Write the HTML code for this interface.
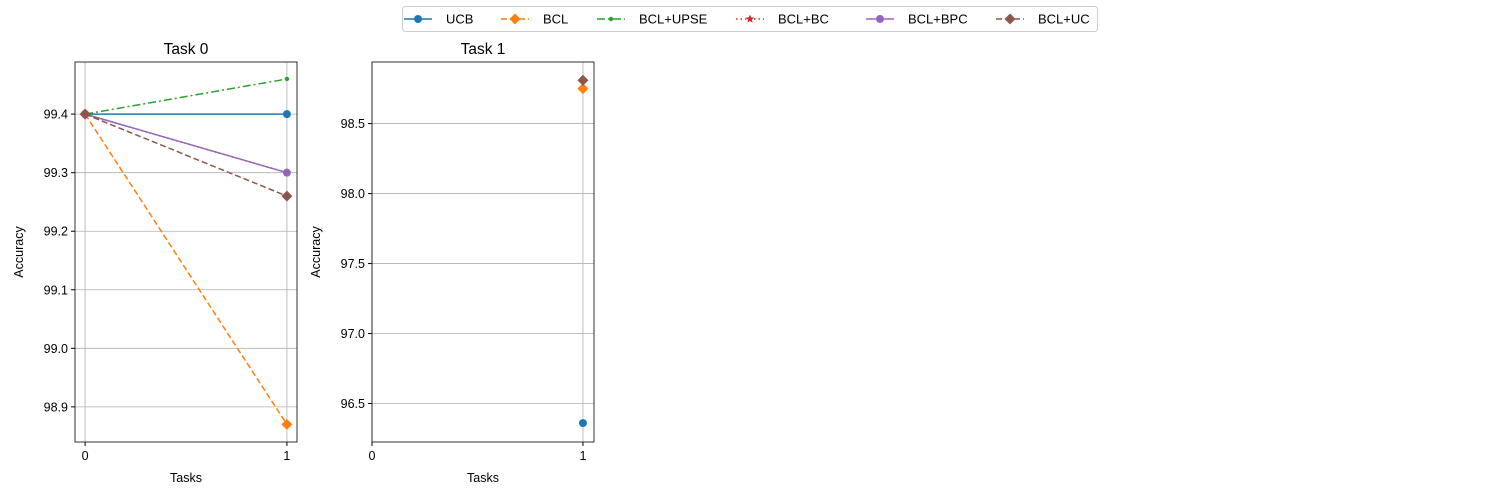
<!DOCTYPE html>
<html><head><meta charset="utf-8"><style>
body{margin:0;background:#fff;}
svg{display:block;font-family:"Liberation Sans","DejaVu Sans",sans-serif;}
</style></head><body>
<svg id="chart" width="1500" height="500"></svg>
<script>
const seriesNames=["UCB","BCL","BCL+UPSE","BCL+BC","BCL+BPC","BCL+UC"];
const task0X=[0,1];
const ucb0=[99.4,99.4];
const bcl0=[99.4,98.87];
const upse0=[99.4,99.46];
const bc0=[99.4,99.3];
const bpc0=[99.4,99.3];
const uc0=[99.4,99.26];
const task1X=[1];
const ucb1=[96.36];
const bcl1=[98.75];
const upse1=[null];
const bc1=[null];
const bpc1=[null];
const uc1=[98.81];
const ticksY0=["99.4","99.3","99.2","99.1","99.0","98.9"];
const ticksY1=["98.5","98.0","97.5","97.0","96.5"];
const ticksX=["0","1"];

const colors=["#1f77b4","#ff7f0e","#2ca02c","#d62728","#9467bd","#8c564b"];
const dashes=["","6,3","8,3,2,3","1.5,3","","6,3"];
const markers=["o","D",".","*","o","D"];
const NS="http://www.w3.org/2000/svg";
const svg=document.getElementById("chart");
function el(t,a,p){const e=document.createElementNS(NS,t);for(const k in a)e.setAttribute(k,a[k]);(p||svg).appendChild(e);return e;}
function marker(g,m,x,y,c){
  let e;
  if(m==="o") e=el("circle",{cx:x,cy:y,r:4,fill:c},g);
  else if(m==="D") e=el("polygon",{points:`${x},${y-5.5} ${x+5.5},${y} ${x},${y+5.5} ${x-5.5},${y}`,fill:c},g);
  else if(m===".") e=el("circle",{cx:x,cy:y,r:2.2,fill:c},g);
  else {let p=[];for(let i=0;i<10;i++){const r=i%2?2:4.5,a=-Math.PI/2+i*Math.PI/5;p.push((x+r*Math.cos(a)).toFixed(1)+","+(y+r*Math.sin(a)).toFixed(1));}
    e=el("polygon",{points:p.join(" "),fill:c},g);}
  
  
}
function panel(name,L,T,W,H,xs,xmin,xmax,ymin,ymax,yt,datas,title){
  const g=el("g",{});
  
  
  const sx=v=>L+(v-xmin)/(xmax-xmin)*W, sy=v=>T+H-(v-ymin)/(ymax-ymin)*H;
  yt.forEach(t=>{const y=sy(+t);
    const gl=el("line",{x1:L,x2:L+W,y1:y,y2:y,stroke:"#b0b0b0","stroke-width":0.8},g);
    
    el("line",{x1:L-4,x2:L,y1:y,y2:y,stroke:"#000"},g);
    const tx=el("text",{x:L-7,y:y+4.5,"font-size":12.5,"text-anchor":"end"},g);tx.textContent=t;
    });
  ticksX.forEach(t=>{const x=sx(+t);
    const gl=el("line",{x1:x,x2:x,y1:T,y2:T+H,stroke:"#b0b0b0","stroke-width":0.8},g);
    
    el("line",{x1:x,x2:x,y1:T+H,y2:T+H+4,stroke:"#000"},g);
    const tx=el("text",{x:x,y:T+H+18,"font-size":12.5,"text-anchor":"middle"},g);tx.textContent=t;
    });
  datas.forEach((d,i)=>{
    const pts=[];xs.forEach((x,j)=>{if(d[j]!=null)pts.push([sx(x),sy(d[j])]);});
    if(pts.length>1){const l=el("polyline",{points:pts.map(p=>p.join(",")).join(" "),fill:"none",stroke:colors[i],"stroke-width":1.5,"stroke-dasharray":dashes[i]},g);
      }
    pts.forEach(p=>marker(g,markers[i],p[0],p[1],colors[i]));
  });
  const fr=el("rect",{x:L,y:T,width:W,height:H,fill:"none",stroke:"#000","stroke-width":0.8},g);
  
  const tt=el("text",{x:L+W/2,y:T-8,"font-size":15.5,"text-anchor":"middle"},g);tt.textContent=title;
  
  const xl=el("text",{x:L+W/2,y:T+H+40,"font-size":12.5,"text-anchor":"middle"},g);xl.textContent="Tasks";
  
  const yl=el("text",{x:0,y:0,"font-size":12.5,"text-anchor":"middle",transform:`translate(${L-52},${T+H/2}) rotate(-90)`},g);yl.textContent="Accuracy";
  
}
panel("task-0-panel",75,62,222,380,task0X,-0.05,1.05,98.84,99.489,ticksY0,[ucb0,bcl0,upse0,bc0,bpc0,uc0],"Task 0");
panel("task-1-panel",372,62,222,380,task1X,0.0,1.0524,96.225,98.94,ticksY1,[ucb1,bcl1,upse1,bc1,bpc1,uc1],"Task 1");
// legend
const lg=el("g",{});


el("rect",{x:402.5,y:6.5,width:695,height:25,rx:3,fill:"#fff",stroke:"#ccc"},lg);
const lx=[404,501,597,736,866,996];
seriesNames.forEach((n,i)=>{
  const e=el("g",{},lg);
  
  
  el("line",{x1:lx[i],x2:lx[i]+28,y1:19,y2:19,stroke:colors[i],"stroke-width":1.5,"stroke-dasharray":dashes[i]},e);
  marker(e,markers[i],lx[i]+14,19,colors[i]);
  const t=el("text",{x:lx[i]+42,y:23.5,"font-size":13},e);t.textContent=n;
});
</script>
</body></html>
